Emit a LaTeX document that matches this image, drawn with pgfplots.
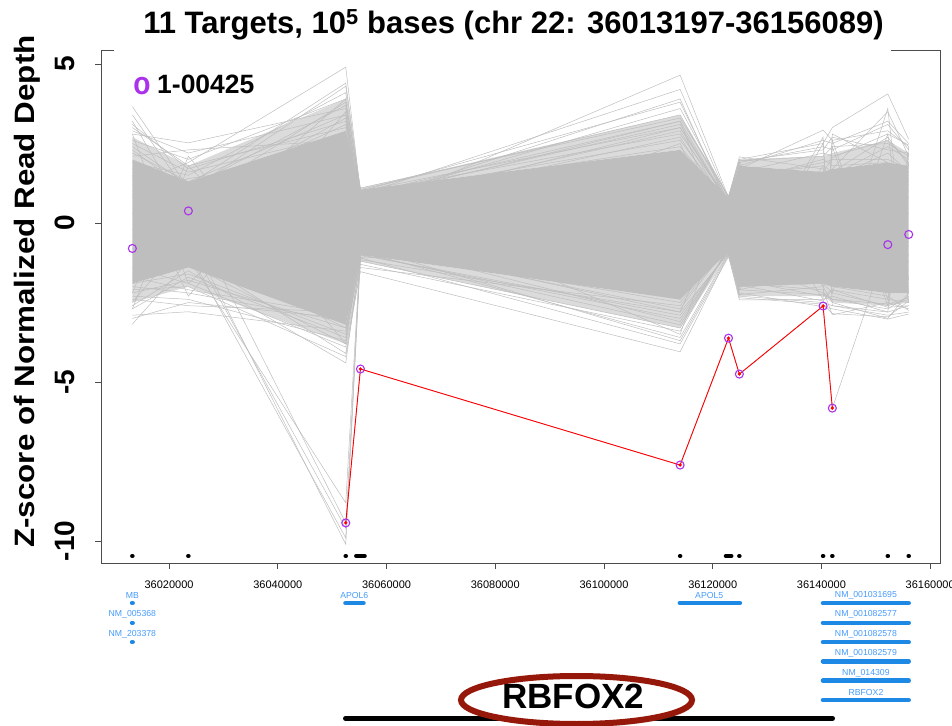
\documentclass[border=0pt]{standalone}
\usepackage{fontspec}
\setmainfont{Liberation Sans}
\usepackage{pgfplots}
\pgfplotsset{compat=1.18}
\usepackage{pgfplotstable}
\usepgfplotslibrary{fillbetween}
\usetikzlibrary{shadows}

\definecolor{samplegray}{RGB}{190,190,190}
\definecolor{hitpurple}{RGB}{170,50,235}
\definecolor{genebar}{RGB}{30,136,229}
\definecolor{genetext}{RGB}{70,155,250}
\definecolor{ovalred}{RGB}{150,24,10}

\newcommand\fsz[1]{\fontsize{#1}{#1}\selectfont}
\tikzset{
  genelab/.style={font=\fsz{8.7}, text=genetext, inner sep=0pt},
  ylab/.style={rotate=90, anchor=south, inner sep=0pt, font=\fsz{28}\bfseries},
}

% target positions are given as offsets from 36,000,000 bp
% one row per sample, one column per target
\pgfplotstableread{
id t1 t2 t3 t4 t5 t6 t7 t8 t9 t10 t11
s1 3.66 1.10 2.40 0.55 1.60 0.30 0.90 0.70 0.60 1.10 0.80
s2 3.40 0.90 1.90 0.30 1.20 0.10 0.50 1.00 0.90 0.60 0.30
s3 3.10 1.70 3.20 0.70 2.10 0.50 1.30 1.60 1.40 2.20 1.60
s4 2.80 2.52 3.60 0.85 2.60 0.60 1.10 0.90 1.20 1.70 1.20
s5 1.20 1.90 4.90 0.95 1.80 0.40 1.50 1.30 1.10 1.50 1.40
s6 0.80 1.40 2.10 0.34 4.65 0.80 2.08 1.70 1.50 2.40 2.00
s7 2.40 1.20 4.40 1.05 3.40 0.70 1.60 2.20 2.10 2.60 1.90
s8 1.90 1.50 4.10 0.90 4.20 0.75 1.90 2.40 2.30 3.10 2.30
s9 2.60 2.00 3.90 1.00 3.80 0.65 1.40 1.90 2.00 2.00 1.70
s10 1.60 1.10 3.70 0.80 3.10 0.55 1.20 1.20 1.30 1.80 1.50
s11 2.20 1.30 3.40 0.60 2.90 0.45 1.70 2.92 2.60 2.90 2.40
s12 1.70 0.80 3.10 0.70 3.60 0.80 2.00 2.50 3.00 4.06 2.63
s13 2.50 1.60 2.80 0.50 2.70 0.35 0.80 1.40 1.70 3.50 2.10
s14 1.30 0.60 3.30 0.85 2.40 0.60 1.80 2.60 2.50 3.20 2.50
s15 3.00 1.80 3.00 0.40 2.20 0.25 1.00 1.10 0.80 1.40 1.00
s16 2.30 1.00 4.30 0.95 2.80 0.70 1.50 1.80 1.60 2.70 1.80
s17 1.00 0.70 3.80 1.10 3.30 0.85 1.95 2.30 2.70 2.30 2.20
s18 2.10 2.30 2.60 0.65 3.90 0.50 1.30 2.00 1.80 1.90 1.30
s19 -3.18 -1.20 -2.30 -0.50 -1.70 -0.40 -0.90 -0.80 -0.70 -1.30 -1.00
s20 -2.90 -2.79 -3.40 -0.80 -2.50 -0.60 -1.60 -1.20 -1.40 -1.80 -1.50
s21 -2.60 -1.50 -4.40 -1.00 -2.90 -0.90 -2.00 -1.90 -2.20 -2.60 -2.40
s22 -1.40 -1.90 -3.90 -1.53 -4.05 -1.00 -2.42 -2.40 -2.30 -2.80 -2.60
s23 -2.30 -2.40 -3.70 -0.90 -3.60 -0.95 -2.20 -2.63 -2.70 -3.02 -2.86
s24 -1.80 -1.00 -4.10 -1.20 -3.30 -0.80 -1.90 -2.10 -2.89 -2.50 -2.70
s25 -2.00 -2.20 -3.10 -0.70 -2.70 -0.70 -1.40 -1.70 -1.80 -2.20 -1.90
s26 -2.70 -1.70 -3.60 -1.10 -3.80 -1.06 -2.30 -2.50 -2.60 -2.90 -2.80
s27 -1.60 -0.90 -3.30 -0.85 -2.20 -0.50 -1.20 -2.20 -2.40 -2.70 -2.30
s28 -2.40 -2.60 -2.80 -0.60 -3.10 -0.85 -2.10 -1.50 -1.60 -1.90 -2.00
s29 -1.20 -1.30 -3.80 -1.30 -3.40 -0.75 -1.80 -2.30 -2.10 -2.40 -2.50
s30 -2.10 -2.00 -4.20 -1.40 -2.60 -0.65 -2.25 -2.00 -2.50 -3.00 -2.20
s31 -3.00 -2.50 -3.00 -0.75 -3.70 -1.00 -1.70 -1.90 -2.00 -2.30 -2.75
s32 -1.90 -1.60 -3.50 -1.00 -3.00 -0.90 -2.35 -2.55 -2.85 -2.95 -2.45
s33 2.80 -1.90 2.50 -0.60 -2.80 0.70 1.60 -2.00 2.40 -2.60 1.90
s34 -2.70 1.80 -3.20 0.90 3.20 -0.80 -2.00 2.50 -1.80 3.60 -2.20
s35 1.50 -2.30 3.50 -1.10 2.50 -0.90 1.80 -2.40 2.80 1.90 -2.50
s36 -2.20 2.10 -3.80 0.80 -3.50 0.75 -1.90 2.70 -2.60 -2.80 2.40
s37 3.20 0.20 -2.90 0.50 3.00 0.60 -2.10 1.80 -2.20 2.80 -1.80
s38 -2.50 -0.40 3.90 -0.90 -2.40 -0.70 1.90 -1.70 2.60 -2.40 2.20
s39 0.30 -0.60 -9.60 -0.90 -1.20 -0.50 -1.00 -0.80 -0.60 -0.90 -0.70
s40 -0.40 -0.90 -9.90 -1.10 -0.80 -0.30 -0.40 -1.10 -1.30 -1.50 -1.20
s41 0.90 -0.30 -10.10 -1.00 -1.60 -0.60 -1.30 -0.50 -0.90 -0.40 -0.60
s42 -0.20 -1.10 -8.80 -0.80 -0.50 -0.20 -0.90 -1.40 -1.00 -1.20 -1.00
s43 2.90 2.20 3.40 1.00 3.00 0.70 1.95 2.10 2.40 2.50 2.10
s44 -2.20 -1.80 -3.30 -1.15 -2.80 -0.95 -2.10 -2.25 -2.40 -2.55 -2.35
s45 1.40 1.10 2.70 0.75 3.20 0.60 1.70 1.60 2.05 2.80 2.45
s46 -1.70 -2.10 -2.90 -0.95 -3.20 -0.80 -1.95 -2.45 -2.10 -2.65 -2.60
}\samplerows
\pgfplotstabletranspose[colnames from=id]\samplecols\samplerows
\pgfplotstablecreatecol[create col/set list={13250,23550,52500,55200,114000,122900,124900,140300,142000,152200,156050}]{pos}\samplecols

% dense core of the cohort and the looser halo around it
\pgfplotstableread{
pos up lo midup midlo
13250 2.00 -1.90 2.70 -2.50
23550 1.30 -1.40 1.80 -2.00
52500 2.90 -3.20 3.90 -3.80
55200 1.05 -1.00 1.10 -1.20
114000 2.30 -2.40 3.40 -3.30
122900 0.80 -0.90 0.85 -1.00
124900 1.80 -2.00 2.00 -2.30
140300 1.60 -1.90 2.10 -2.30
142000 1.70 -2.00 2.20 -2.50
152200 1.90 -2.20 2.60 -2.60
156050 1.80 -2.20 2.20 -2.50
}\core

% sample 1-00425
\pgfplotstableread{
pos z
13250 -0.80
23550 0.38
52500 -9.43
55200 -4.59
114000 -7.61
122900 -3.62
124900 -4.75
140300 -2.61
142000 -5.82
152200 -0.68
156050 -0.36
}\hit

\begin{document}
\begin{tikzpicture}
\begin{axis}[
  at={(101pt,162pt)}, anchor=south west,
  width=839pt, height=513pt, scale only axis,
  xmin=7481, xmax=161805, ymin=-10.69, ymax=5.44,
  clip=false,
  axis line style={black!70, line width=0.8pt},
  xtick pos=left, ytick pos=left, tick align=outside,
  major tick length=6pt,
  tick style={black!70, line width=0.8pt},
  xtick={20000,40000,60000,80000,100000,120000,140000,160000},
  xticklabels={36020000,36040000,36060000,36080000,36100000,36120000,36140000,36160000},
  xticklabel style={font=\fsz{11}, inner sep=0pt, anchor=north, yshift=-12pt},
  ytick={-10,-5,0,5}, yticklabels={},
  scaled x ticks=false,
]
% cohort envelope
\addplot[name path=cu, draw=none] table[x=pos,y=up]{\core};
\addplot[name path=cl, draw=none] table[x=pos,y=lo]{\core};
\addplot[name path=mu, draw=none] table[x=pos,y=midup]{\core};
\addplot[name path=ml, draw=none] table[x=pos,y=midlo]{\core};
\addplot[samplegray!55] fill between[of=mu and cu];
\addplot[samplegray!55] fill between[of=cl and ml];
\addplot[samplegray] fill between[of=cu and cl];

% individual samples
\pgfplotsinvokeforeach{1,...,46}{
  \addplot[samplegray, line width=0.5pt] table[x=pos,y=s#1]{\samplecols};
}
\addplot[samplegray, line width=0.5pt] table[x=pos,y=z]{\hit};

% called deletion
\addplot[red, line width=0.9pt, skip coords between index={0}{2}, skip coords between index={9}{11}]
  table[x=pos,y=z]{\hit};
\addplot[only marks, mark=*, mark size=1.5pt, red, skip coords between index={0}{2}, skip coords between index={9}{11}]
  table[x=pos,y=z]{\hit};
\addplot[only marks, mark=o, mark size=4pt, hitpurple, mark options={line width=1.1pt}]
  table[x=pos,y=z]{\hit};

% target intervals
\addplot[black, line width=4pt, line cap=round, unbounded coords=jump] table {
x y
13200 -10.47
13300 -10.47
nan nan
23500 -10.47
23600 -10.47
nan nan
52450 -10.47
52550 -10.47
nan nan
54400 -10.47
56000 -10.47
nan nan
113950 -10.47
114050 -10.47
nan nan
122400 -10.47
123450 -10.47
nan nan
124850 -10.47
124950 -10.47
nan nan
140250 -10.47
140350 -10.47
nan nan
141950 -10.47
142050 -10.47
nan nan
152150 -10.47
152250 -10.47
nan nan
156000 -10.47
156100 -10.47
};

% gene track
\addplot[genebar, line width=4.5pt, line cap=round, unbounded coords=jump] table {
x y
13200 -11.95
13300 -11.95
nan nan
13200 -12.57
13300 -12.57
nan nan
13200 -13.18
13300 -13.18
nan nan
52450 -11.95
55760 -11.95
nan nan
113950 -11.95
125000 -11.95
nan nan
140280 -11.95
156050 -11.95
nan nan
140280 -12.57
156050 -12.57
nan nan
140280 -13.18
156050 -13.18
nan nan
140280 -13.78
156050 -13.78
nan nan
140280 -14.39
156050 -14.39
nan nan
140280 -15.00
156050 -15.00
};
\node[genelab] at (axis cs:13250,-11.70) {MB};
\node[genelab] at (axis cs:13250,-12.31) {NM\_005368};
\node[genelab] at (axis cs:13250,-12.92) {NM\_203378};
\node[genelab] at (axis cs:54070,-11.70) {APOL6};
\node[genelab] at (axis cs:119360,-11.70) {APOL5};
\node[genelab] at (axis cs:148180,-11.70) {NM\_001031695};
\node[genelab] at (axis cs:148180,-12.31) {NM\_001082577};
\node[genelab] at (axis cs:148180,-12.92) {NM\_001082578};
\node[genelab] at (axis cs:148180,-13.53) {NM\_001082579};
\node[genelab] at (axis cs:148180,-14.15) {NM\_014309};
\node[genelab] at (axis cs:148180,-14.76) {RBFOX2};

% y tick labels, set along the axis
\node[ylab] at ([xshift=-26pt]axis cs:7481,5) {5};
\node[ylab] at ([xshift=-26pt]axis cs:7481,0) {0};
\node[ylab] at ([xshift=-26pt]axis cs:7481,-5) {-5};
\node[ylab] at ([xshift=-26pt]axis cs:7481,-10) {-10};
\end{axis}

% open top edge of the frame
\draw[white, line width=2.5pt] (114pt,675pt) -- (891pt,675pt);

% title
\node[anchor=base, inner sep=0pt, font=\fsz{31}\bfseries] at (513.5pt,691.7pt)
  {11 Targets, 10\textsuperscript{5} bases (chr 22: 36013197-36156089)};

% y label
\node[rotate=90, anchor=base, inner sep=0pt] at (35pt,433.5pt)
  {\scalebox{1.12}[1]{\fsz{28}\bfseries Z-score of Normalized Read Depth}};

% legend
\node[anchor=center, inner sep=0pt, text=hitpurple, font=\fsz{32}\bfseries] at (142pt,638.5pt) {\scalebox{0.88}[1]{o}};
\node[anchor=west, inner sep=0pt, font=\fsz{26.5}\bfseries] at (157pt,640.3pt) {1-00425};

% highlighted gene
\draw[black, line width=5pt, line cap=round] (345.5pt,6.7pt) -- (832.5pt,6.7pt);
\draw[ovalred, line width=6pt, fill=white,
      drop shadow={shadow xshift=2pt, shadow yshift=-3pt, opacity=0.25}]
  (576.5pt,25pt) ellipse [x radius=115.5pt, y radius=24pt];
\node[anchor=base, inner sep=0pt, font=\fsz{35}\bfseries] at (573.3pt,16.5pt) {RBFOX2};

\pgfresetboundingbox
\path[use as bounding box] (0pt,0pt) rectangle (952pt,725pt);
\end{tikzpicture}
\end{document}
